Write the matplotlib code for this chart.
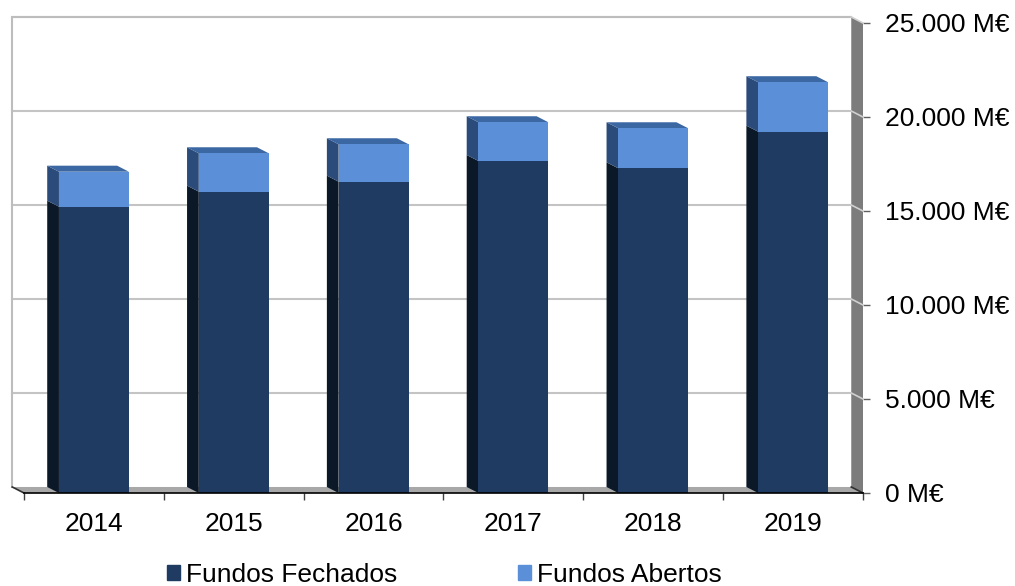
import matplotlib.pyplot as plt
from matplotlib.patches import Polygon, Patch
import numpy as np

plt.rcParams['font.family'] = ['Liberation Sans', 'DejaVu Sans']

# Fund volumes per year (M€)
years = ['2014', '2015', '2016', '2017', '2018', '2019']
fechados = [15230, 16030, 16560, 17660, 17270, 19220]
abertos = [1860, 2040, 1990, 2060, 2130, 2630]
y_ticks = [0, 5000, 10000, 15000, 20000, 25000]
y_labels = ['0 M€', '5.000 M€', '10.000 M€', '15.000 M€', '20.000 M€', '25.000 M€']

# colours: front, side, top faces
dark_front, dark_side = '#1f3b62', '#0b1828'
light_front, light_side, light_top = '#5b8fd8', '#2b4b7b', '#3b68a3'

# 3D depth offset (category units, M€)
DX, DY = 0.084, 320
BAR_W = 0.5
YMAX = 25000
FS = 19

fig = plt.figure(figsize=(10.15, 5.86), dpi=100)
ax = fig.add_axes([24 / 1015, 93 / 586, 839 / 1015, 470 / 586])
ax.set_xlim(-0.5, 5.5)
ax.set_ylim(0, YMAX)

x = np.arange(len(years))
x0, x1 = -0.5, len(years) - 0.5

# back wall
ax.add_patch(Polygon([(x0 - DX, DY), (x1 - DX, DY), (x1 - DX, YMAX + DY), (x0 - DX, YMAX + DY)],
                     closed=True, facecolor='white', edgecolor='none', zorder=0, clip_on=False))
for v in y_ticks[1:]:
    ax.plot([x0 - DX, x1 - DX], [v + DY, v + DY], color='#c4c4c4', lw=1.5, zorder=1, clip_on=False)
ax.plot([x0 - DX, x0 - DX, x1 - DX], [DY, YMAX + DY, YMAX + DY], color='#bdbdbd', lw=1.5,
        zorder=1, clip_on=False)

# floor
ax.add_patch(Polygon([(x0 - DX, DY), (x1 - DX, DY), (x1, 0), (x0, 0)], closed=True,
                     facecolor='#a8a8a8', edgecolor='none', zorder=2, clip_on=False))
ax.plot([x0 - DX, x0], [DY, 0], color='#303030', lw=1.2, zorder=2, clip_on=False)

# right side wall
ax.add_patch(Polygon([(x1 - DX, DY), (x1, 0), (x1, YMAX), (x1 - DX, YMAX + DY)], closed=True,
                     facecolor='#7c7c7c', edgecolor='none', zorder=2, clip_on=False))
for v in y_ticks:
    ax.plot([x1 - DX, x1], [v + DY, v], color='#d0d0d0' if v else '#303030', lw=1.2,
            zorder=3, clip_on=False)

# bars: front faces
ax.bar(x, fechados, width=BAR_W, color=dark_front, zorder=5)
ax.bar(x, abertos, width=BAR_W, bottom=fechados, color=light_front, zorder=5)

# bars: left side and top faces
for xi, f, a in zip(x, fechados, abertos):
    left = xi - BAR_W / 2
    right = xi + BAR_W / 2
    top = f + a
    ax.add_patch(Polygon([(left - DX, DY), (left, 0), (left, f), (left - DX, f + DY)],
                         closed=True, facecolor=dark_side, edgecolor='none', zorder=4))
    ax.add_patch(Polygon([(left - DX, f + DY), (left, f), (left, top), (left - DX, top + DY)],
                         closed=True, facecolor=light_side, edgecolor='none', zorder=4))
    ax.add_patch(Polygon([(left - DX, top + DY), (right - DX, top + DY), (right, top), (left, top)],
                         closed=True, facecolor=light_top, edgecolor='none', zorder=4))

# axes styling
for side in ['top', 'left', 'right']:
    ax.spines[side].set_visible(False)
ax.spines['bottom'].set_color('black')
ax.spines['bottom'].set_linewidth(1.2)
ax.spines['bottom'].set_zorder(6)

ax.set_xticks(x)
ax.set_xticklabels(years, fontsize=FS)
ax.set_xticks(np.arange(x0, x1 + 0.5, 1), minor=True)
ax.tick_params(axis='x', which='major', length=0, pad=14)
ax.tick_params(axis='x', which='minor', length=5, width=1, color='#404040')

ax.yaxis.tick_right()
ax.set_yticks(y_ticks)
ax.set_yticklabels(y_labels, fontsize=FS)
ax.tick_params(axis='y', length=5, width=1, color='#606060', pad=11)

handles = [Patch(color=dark_front, label='Fundos Fechados'),
           Patch(color=light_front, label='Fundos Abertos')]
fig.legend(handles=handles, loc='center left', bbox_to_anchor=(167 / 1015, 1 - 575 / 586), ncol=2,
           frameon=False, fontsize=FS, handlelength=0.5, handleheight=0.5,
           handletextpad=0.23, columnspacing=4.55, borderaxespad=0, borderpad=0)

fig.savefig('out.png', dpi=100)
